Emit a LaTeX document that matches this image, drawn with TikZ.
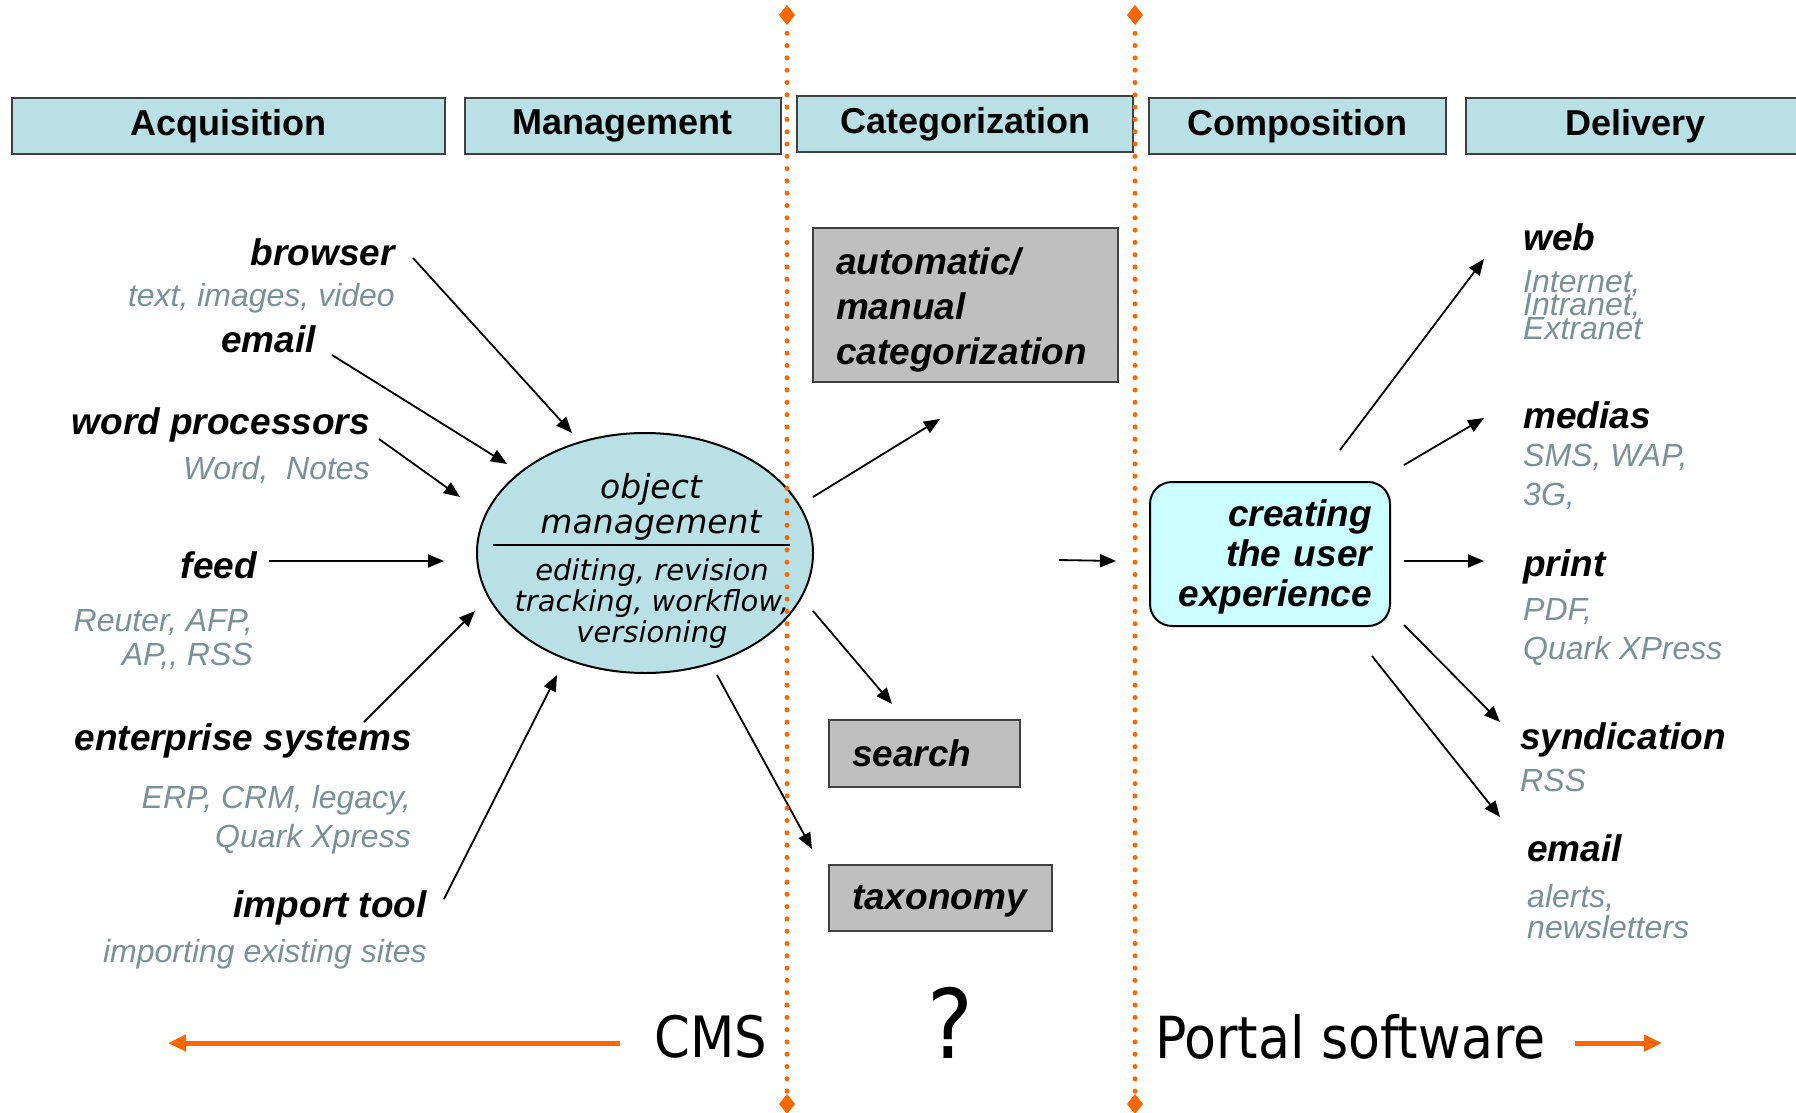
\documentclass[tikz,border=0pt]{standalone}
\usepackage{fontspec}
\setmainfont{Liberation Sans}
\newfontfamily\verdana{DejaVu Sans}
\newfontfamily\tahoma{DejaVu Sans Condensed}
\usetikzlibrary{shapes.geometric, arrows.meta, positioning}
\definecolor{hdrblue}{RGB}{185,224,228}
\definecolor{uxcyan}{RGB}{204,255,255}
\definecolor{notegray}{RGB}{122,146,150}
\definecolor{dotorange}{RGB}{255,102,0}
\newcommand\tightlines{\setlength{\lineskiplimit}{-40pt}}
\tikzset{
    phasebox/.style={rectangle, draw=black!75, line width=2pt, fill=hdrblue, minimum height=56pt, inner sep=0pt, font=\bfseries\fontsize{36}{40}\selectfont},
    srclabel/.style={inner sep=0pt, font=\bfseries\itshape\fontsize{37}{42}\selectfont},
    srcnote/.style={inner sep=0pt, text=notegray, font=\itshape\fontsize{32}{39}\selectfont},
    catbox/.style={rectangle, draw=black!75, line width=2pt, fill=black!25, anchor=north west, inner xsep=23pt, inner ysep=0pt, align=left, font=\bfseries\itshape\fontsize{37}{45}\selectfont},
    arrow/.style={-{Triangle[length=16pt, width=13pt]}, line width=1.8pt, black},
    bigarrow/.style={-{Triangle[length=18pt, width=16pt]}, line width=5pt, dotorange},
    divider/.style={{Diamond[length=20pt, width=16pt]}-{Diamond[length=20pt, width=16pt]}, dotorange, line width=5pt, line cap=round, dash pattern=on 0pt off 12.3pt},
}

\begin{document}
\begin{tikzpicture}[x=1pt, y=-1pt]
\clip (0,0) rectangle (1796,1113);

% Phase headers
\node[phasebox, minimum width=433pt, anchor=north west] (acq) at (11,97) {Acquisition};
\node[phasebox, minimum width=316pt, right=17.7pt of acq] (mgmt) {Management};
\node[phasebox, minimum width=336pt, right=14.7pt of mgmt, yshift=2pt] (cat) {Categorization};
\node[phasebox, minimum width=297pt, right=13.7pt of cat, yshift=-2pt] (comp) {Composition};
\node[phasebox, minimum width=340pt, right=17.7pt of comp] (deliv) {Delivery};

% Left column - sources
\node[srclabel, anchor=east] (browser) at (395,252) {browser};
\node[srcnote, anchor=east] (browser-note) at (395,298) {text, images, video};
\node[srclabel, anchor=east] (email-in) at (316,339) {email};
\node[srclabel, anchor=east] (wordproc) at (370,425) {word processors};
\node[srcnote, anchor=east] (wordproc-note) at (370,470) {Word,\ \ Notes};
\node[srclabel, anchor=east] (feed) at (257,565) {feed};
\node[srcnote, anchor=east, align=right, font=\itshape\fontsize{32}{34}\selectfont] (feed-note) at (253,640) {Reuter, AFP,\\AP,{}, RSS};
\node[srclabel, anchor=east] (enterprise) at (412,741) {enterprise systems};
\node[srcnote, anchor=east, align=right] (enterprise-note) at (411,820) {ERP, CRM, legacy,\\Quark Xpress};
\node[srclabel, anchor=east] (import) at (427,908) {import tool};
\node[srcnote, anchor=east] (import-note) at (427,954) {importing existing sites};

% Object management
\node[ellipse, draw, line width=2pt, fill=hdrblue, minimum width=336pt, minimum height=240pt, inner sep=0pt] (om) at (645,553) {};
\node[inner sep=0pt, align=center, font=\verdana\itshape\fontsize{33}{35}\selectfont] (om-title) at (651,506.5) {object\\management};
\node[inner sep=0pt, align=center, font=\verdana\itshape\fontsize{29}{31}\selectfont] (om-tasks) at (652,603.5) {editing, revision\\tracking, workflow,\\versioning};
\draw[line width=1.8pt] (493,545) -- (790,545);

% Middle column - categorization
\node[catbox, text width=259pt, minimum height=154pt] (autocat) at (812,227) {\rule{0pt}{36pt}automatic/\\manual\\categorization};
\node[catbox, text width=145pt, minimum height=67pt] (search) at (828,719) {search};
\node[catbox, text width=177pt, minimum height=66pt] (taxonomy) at (828,864) {\rule{0pt}{31pt}taxonomy};

% Composition
\node[rectangle, rounded corners=22pt, draw, line width=2pt, fill=uxcyan, anchor=north west, minimum height=144pt, text width=204pt, inner xsep=18pt, align=right, font=\bfseries\itshape\fontsize{37}{40}\selectfont] (ux) at (1149,481) {\rule{0pt}{33.5pt}creating\\the user\\experience};

% Right column - delivery channels
\node[srclabel, anchor=west] (web) at (1523,237) {web};
\node[srcnote, anchor=west, align=left, font=\itshape\fontsize{32}{23.5}\selectfont\tightlines] (web-note) at (1523,305) {Internet,\\Intranet,\\Extranet};
\node[srclabel, anchor=west] (medias) at (1523,415) {medias};
\node[srcnote, anchor=west, align=left] (medias-note) at (1523,477) {SMS, WAP,\\3G,};
\node[srclabel, anchor=west] (print) at (1523,567) {print};
\node[srcnote, anchor=west, align=left] (print-note) at (1523,632) {PDF,\\Quark XPress};
\node[srclabel, anchor=west] (synd) at (1520,740) {syndication};
\node[srcnote, anchor=west] (synd-note) at (1520,780) {RSS};
\node[srclabel, anchor=west] (email-out) at (1527,848) {email};
\node[srcnote, anchor=west, align=left, font=\itshape\fontsize{32}{31}\selectfont] (email-note) at (1527,912) {alerts,\\newsletters};

% Bottom captions
\node[inner sep=0pt, font=\tahoma\fontsize{57}{60}\selectfont] (cms) at (711,1037) {CMS};
\node[inner sep=0pt, font=\tahoma\fontsize{96}{100}\selectfont] (unknown) at (950,1023) {?};
\node[inner sep=0pt, anchor=west, font=\tahoma\fontsize{58}{60}\selectfont] (portal) at (1155,1037) {Portal software};

% Arrow end points
\coordinate (browser-out) at (413,258);  \coordinate (browser-in) at (572,433);
\coordinate (email-out1) at (332,355);   \coordinate (email-in1) at (507,464);
\coordinate (wordproc-out) at (379,439); \coordinate (wordproc-in) at (460,497);
\coordinate (feed-out) at (269,561);     \coordinate (feed-in) at (444,561);
\coordinate (enterprise-out) at (364,722); \coordinate (enterprise-in) at (475,611);
\coordinate (import-out) at (444,899);   \coordinate (import-in) at (557,675);
\coordinate (om-out1) at (813,497);      \coordinate (autocat-in) at (940,419);
\coordinate (om-out2) at (813,611);      \coordinate (search-in) at (892,704);
\coordinate (om-out3) at (717,675);      \coordinate (taxonomy-in) at (812,849);
\coordinate (cat-out) at (1059,560);     \coordinate (ux-in) at (1116,561);
\coordinate (ux-out1) at (1340,450);     \coordinate (web-in) at (1484,259);
\coordinate (ux-out2) at (1404,465);     \coordinate (medias-in) at (1484,418);
\coordinate (ux-out3) at (1404,561);     \coordinate (print-in) at (1484,561);
\coordinate (ux-out4) at (1404,625);     \coordinate (synd-in) at (1500,722);
\coordinate (ux-out5) at (1372,656);     \coordinate (email-in2) at (1500,817);

% Arrows
\draw[arrow] (browser-out) -- (browser-in);
\draw[arrow] (email-out1) -- (email-in1);
\draw[arrow] (wordproc-out) -- (wordproc-in);
\draw[arrow] (feed-out) -- (feed-in);
\draw[arrow] (enterprise-out) -- (enterprise-in);
\draw[arrow] (import-out) -- (import-in);
\draw[arrow] (om-out1) -- (autocat-in);
\draw[arrow] (om-out2) -- (search-in);
\draw[arrow] (om-out3) -- (taxonomy-in);
\draw[arrow] (cat-out) -- (ux-in);
\draw[arrow] (ux-out1) -- (web-in);
\draw[arrow] (ux-out2) -- (medias-in);
\draw[arrow] (ux-out3) -- (print-in);
\draw[arrow] (ux-out4) -- (synd-in);
\draw[arrow] (ux-out5) -- (email-in2);

% CMS / portal split
\coordinate (div1-top) at (787,5);  \coordinate (div1-bot) at (787,1114);
\coordinate (div2-top) at (1135,5); \coordinate (div2-bot) at (1135,1114);
\draw[divider] (div1-top) -- (div1-bot);
\draw[divider] (div2-top) -- (div2-bot);
\coordinate (cms-tail) at (620,1043);    \coordinate (cms-head) at (168,1043);
\coordinate (portal-tail) at (1575,1043); \coordinate (portal-head) at (1662,1043);
\draw[bigarrow] (cms-tail) -- (cms-head);
\draw[bigarrow] (portal-tail) -- (portal-head);
\end{tikzpicture}
\end{document}
